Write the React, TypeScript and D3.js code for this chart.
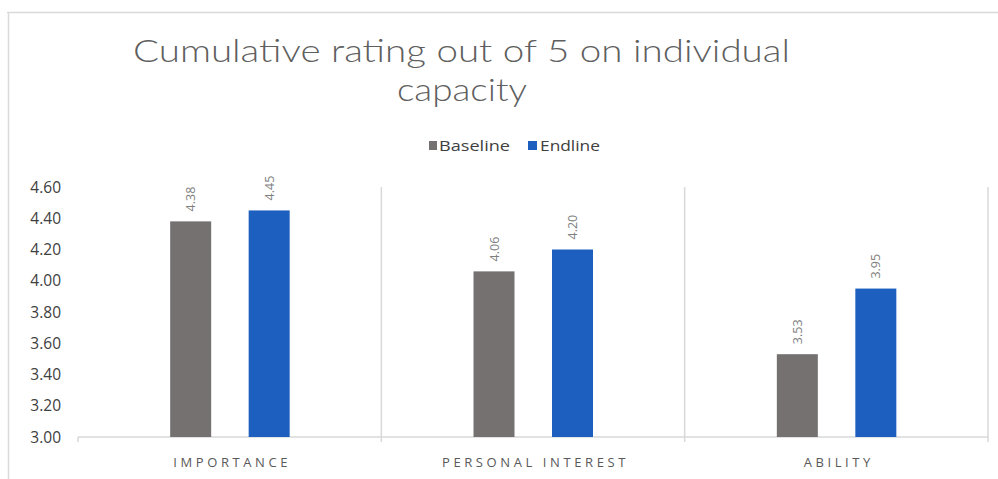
import React from "react";
import * as d3 from "d3";

const categories = ["IMPORTANCE", "PERSONAL INTEREST", "ABILITY"];
const seriesNames = ["Baseline", "Endline"];
const baseline = [4.38, 4.06, 3.53];
const endline = [4.45, 4.2, 3.95];
const yTicks = [3.0, 3.2, 3.4, 3.6, 3.8, 4.0, 4.2, 4.4, 4.6];
const colors = ["#757171", "#1C5FBF"];

const W = 998;
const H = 479;
const plot = { left: 78, right: 988, top: 187, bottom: 437 };

export default function App() {
  const x = d3.scaleBand<string>().domain(categories).range([plot.left, plot.right]);
  const y = d3.scaleLinear().domain([3.0, 4.6]).range([plot.bottom, plot.top]);
  const series = [baseline, endline];
  const font = "'Open Sans', 'Noto Sans', sans-serif";
  const bw = 41;

  return (
    <svg width={W} height={H} style={{ position: "absolute", left: 0, top: 0 }}>
      <rect x={0} y={0} width={W} height={H} fill="#ffffff" />
      {/* outer chart border */}
      <line x1={7} x2={W} y1={12.5} y2={12.5} stroke="#d9d9d9" strokeWidth={1.5} />
      <line x1={8.5} x2={8.5} y1={12} y2={H} stroke="#d9d9d9" strokeWidth={1.5} />

      {/* title */}
      <g fontFamily="Lato, 'Open Sans', sans-serif" fontWeight={300} fontSize={32} fill="#5f5f5f">
        <text x={461.5} y={62} textAnchor="middle" textLength={657} lengthAdjust="spacingAndGlyphs">
          Cumulative rating out of 5 on individual
        </text>
        <text x={462} y={101} textAnchor="middle" textLength={130} lengthAdjust="spacingAndGlyphs">
          capacity
        </text>
      </g>

      {/* legend */}
      <g fontFamily={font} fontSize={14.5} fill="#404040">
        <rect x={429} y={141} width={8} height={9} fill={colors[0]} />
        <text x={439} y={151} textLength={71} lengthAdjust="spacingAndGlyphs">{seriesNames[0]}</text>
        <rect x={528} y={141} width={9} height={9} fill={colors[1]} />
        <text x={540} y={151} textLength={60} lengthAdjust="spacingAndGlyphs">{seriesNames[1]}</text>
      </g>

      {/* category separators */}
      {categories.map((c, i) => {
        const xr = (x(c) as number) + x.bandwidth();
        return (
          <line
            key={"sep" + i}
            x1={xr}
            x2={xr}
            y1={plot.top}
            y2={plot.bottom + 5}
            stroke="#d9d9d9"
            strokeWidth={1.5}
          />
        );
      })}
      <line x1={plot.left} x2={plot.left} y1={plot.bottom} y2={plot.bottom + 5} stroke="#d9d9d9" strokeWidth={1.5} />
      {/* x axis line */}
      <line x1={plot.left} x2={plot.right} y1={plot.bottom} y2={plot.bottom} stroke="#d9d9d9" strokeWidth={1.5} />

      {/* y tick labels */}
      <g fontFamily={font} fontSize={15.5} fill="#404040" textAnchor="end">
        {yTicks.map((t) => (
          <text key={t} x={61} y={y(t) + 5.5}>
            {t.toFixed(2)}
          </text>
        ))}
      </g>

      {/* bars */}
      {categories.map((c, ci) => {
        const bandCenter = (x(c) as number) + x.bandwidth() / 2;
        return series.map((s, si) => {
          const cx = bandCenter + (si === 0 ? -39 : 39.5);
          const v = s[ci];
          return (
            <g key={c + si}>
              <rect
                x={cx - bw / 2}
                y={y(v)}
                width={bw}
                height={plot.bottom - y(v)}
                fill={colors[si]}
              />
              <text
                transform={`translate(${cx + 4.5},${y(v) - 10}) rotate(-90)`}
                fontFamily={font}
                fontSize={12.5}
                fill="#7f7f7f"
              >
                {v.toFixed(2)}
              </text>
            </g>
          );
        });
      })}

      {/* category labels */}
      <g fontFamily={font} fontSize={13} fill="#595959" textAnchor="middle" letterSpacing={3.6}>
        {categories.map((c) => (
          <text key={c} x={(x(c) as number) + x.bandwidth() / 2 + 2.5} y={467}>
            {c}
          </text>
        ))}
      </g>
    </svg>
  );
}
